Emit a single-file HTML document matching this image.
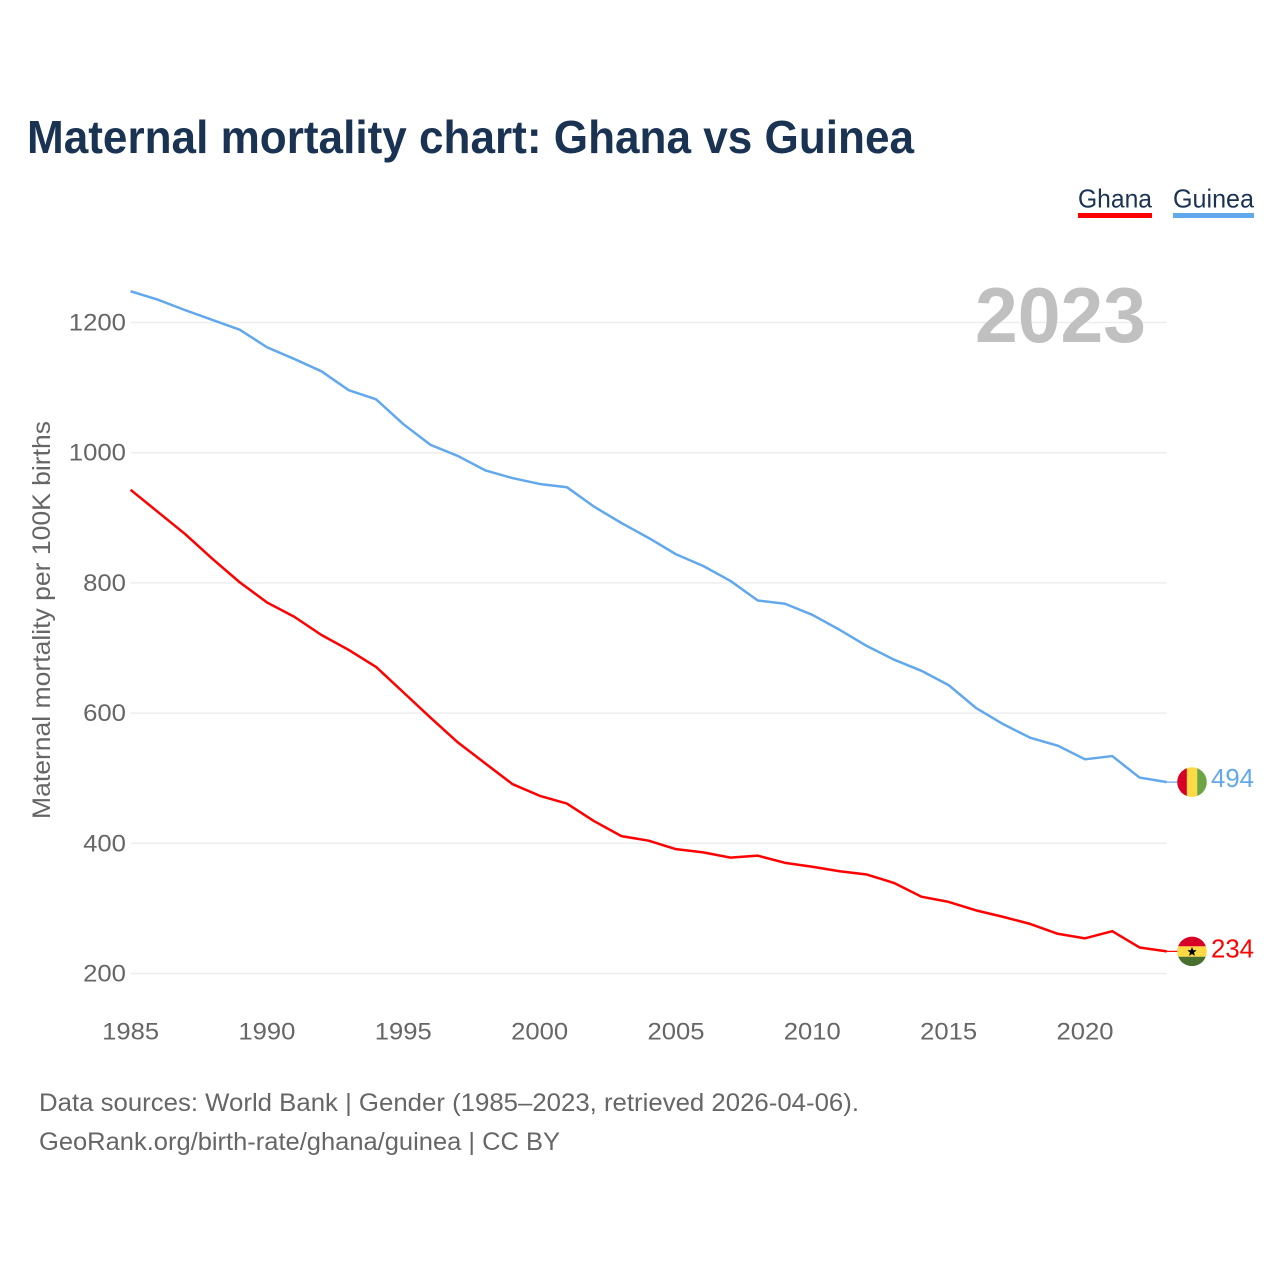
<!DOCTYPE html>
<html lang="en">
<head>
<meta charset="utf-8">
<title>Maternal mortality chart: Ghana vs Guinea</title>
<style>
html,body{margin:0;padding:0;background:#fff;}
svg{display:block;font-family:"Liberation Sans",Arial,sans-serif;}
</style>
</head>
<body>
<svg id="chart" xmlns="http://www.w3.org/2000/svg" width="1280" height="1280" viewBox="0 0 1280 1280">
  <defs>
    <clipPath id="flag-clip-guinea"><circle id="clip-guinea" cx="1192" cy="782" r="14.8"/></clipPath>
    <clipPath id="flag-clip-ghana"><circle id="clip-ghana" cx="1192" cy="951" r="14.8"/></clipPath>
  </defs>
  <rect width="1280" height="1280" fill="#fff"/>
  <text x="27" y="153" font-size="46" font-weight="700" fill="#1a3353" textLength="887" lengthAdjust="spacingAndGlyphs">Maternal mortality chart: Ghana vs Guinea</text>

  <g>
    <text x="1078" y="207.5" font-size="26" fill="#1a3353" textLength="74" lengthAdjust="spacingAndGlyphs">Ghana</text>
    <rect x="1078" y="213" width="74" height="5" fill="#ff0000"/>
  </g>
  <g>
    <text x="1173" y="207.5" font-size="26" fill="#1a3353" textLength="81" lengthAdjust="spacingAndGlyphs">Guinea</text>
    <rect x="1173" y="213" width="81" height="5" fill="#62a8ec"/>
  </g>

  <g id="grid"></g>
  <g id="y-ticks"></g>
  <g id="x-ticks"></g>

  <text x="975" y="342" font-size="78" font-weight="700" fill="#c0c0c0" textLength="171" lengthAdjust="spacingAndGlyphs">2023</text>

  <text transform="translate(50,819) rotate(-90)" x="0" y="0" font-size="25" fill="#666666" textLength="398" lengthAdjust="spacingAndGlyphs">Maternal mortality per 100K births</text>

  <g id="series"></g>

  <g id="flag-guinea" clip-path="url(#flag-clip-guinea)"></g>
  <g id="flag-ghana" clip-path="url(#flag-clip-ghana)"></g>

  <text x="39" y="1111" font-size="25" fill="#666666" textLength="820" lengthAdjust="spacingAndGlyphs">Data sources: World Bank | Gender (1985–2023, retrieved 2026-04-06).</text>
  <text x="39" y="1150" font-size="25" fill="#666666" textLength="521" lengthAdjust="spacingAndGlyphs">GeoRank.org/birth-rate/ghana/guinea | CC BY</text>
</svg>
<script>
const years = [1985,1986,1987,1988,1989,1990,1991,1992,1993,1994,1995,1996,1997,1998,1999,2000,2001,2002,2003,2004,2005,2006,2007,2008,2009,2010,2011,2012,2013,2014,2015,2016,2017,2018,2019,2020,2021,2022,2023];
const guineaValues = [1248,1235,1219,1204,1189,1162,1144,1125,1096,1082,1044,1012,995,973,961,952,947,917,892,869,844,826,803,773,768,751,728,703,682,665,643,608,583,562,550,529,534,501,494];
const ghanaValues = [943,909,875,837,801,770,748,720,697,671,632,593,555,523,491,473,461,434,411,404,391,386,378,381,370,364,357,352,339,318,310,297,287,276,261,254,265,240,234];
const yTickValues = [200,400,600,800,1000,1200];
const xTickValues = [1985,1990,1995,2000,2005,2010,2015,2020];

const NS = 'http://www.w3.org/2000/svg';
function xScale(year){ return 130.6 + (year - 1985) * (1166.8 - 130.6) / (2023 - 1985); }
function yScale(value){ return 973.5 - (value - 200) * 0.651; }
function make(tag, attrs, parent){
  const el = document.createElementNS(NS, tag);
  for (const k in attrs) el.setAttribute(k, attrs[k]);
  parent.appendChild(el);
  return el;
}

const grid = document.getElementById('grid');
const yTicks = document.getElementById('y-ticks');
const xTicks = document.getElementById('x-ticks');
const seriesGroup = document.getElementById('series');

yTickValues.forEach(function(v){
  const line = make('line', {x1:130.6, x2:1166.8, y1:yScale(v), y2:yScale(v), stroke:'#eeeeee', 'stroke-width':1.5}, grid);
  
  
  const label = make('text', {x:126, y:yScale(v)+8, 'text-anchor':'end', 'font-size':24.5, fill:'#666666', textLength:String(v).length*14.3, lengthAdjust:'spacingAndGlyphs'}, yTicks);
  label.textContent = v;
  
  
});

xTickValues.forEach(function(v){
  const label = make('text', {x:xScale(v), y:1039.5, 'text-anchor':'middle', 'font-size':24.5, fill:'#666666', textLength:57, lengthAdjust:'spacingAndGlyphs'}, xTicks);
  label.textContent = v;
  
  
});

function pathFor(values){
  return values.map(function(v,i){
    return (i ? 'L' : 'M') + xScale(years[i]).toFixed(2) + ' ' + yScale(v).toFixed(2);
  }).join(' ');
}

const guineaLine = make('path', {d:pathFor(guineaValues), fill:'none', stroke:'#62a8ec', 'stroke-width':2.5, 'stroke-linejoin':'round'}, seriesGroup);


const ghanaLine = make('path', {d:pathFor(ghanaValues), fill:'none', stroke:'#ff0000', 'stroke-width':2.5, 'stroke-linejoin':'round'}, seriesGroup);



const guineaEnd = guineaValues[guineaValues.length-1];
const ghanaEnd = ghanaValues[ghanaValues.length-1];
const guineaY = yScale(guineaEnd);
const ghanaY = yScale(ghanaEnd);

const guineaConnector = make('line', {x1:1166.8, x2:1178, y1:guineaY, y2:guineaY, stroke:'#62a8ec', 'stroke-width':1.2}, seriesGroup);


const ghanaConnector = make('line', {x1:1166.8, x2:1178, y1:ghanaY, y2:ghanaY, stroke:'#ff0000', 'stroke-width':1.2}, seriesGroup);



document.getElementById('clip-guinea').setAttribute('cy', guineaY);
document.getElementById('clip-ghana').setAttribute('cy', ghanaY);

const fg = document.getElementById('flag-guinea');
make('rect', {x:1177, y:guineaY-15, width:10, height:30, fill:'#d80027'}, fg);
make('rect', {x:1186.8, y:guineaY-15, width:10.4, height:30, fill:'#ffda44'}, fg);
make('rect', {x:1197.2, y:guineaY-15, width:10, height:30, fill:'#6da544'}, fg);

const fh = document.getElementById('flag-ghana');
make('rect', {x:1177, y:ghanaY-15, width:30, height:10, fill:'#d80027'}, fh);
make('rect', {x:1177, y:ghanaY-5, width:30, height:10.4, fill:'#ffda44'}, fh);
make('rect', {x:1177, y:ghanaY+5.4, width:30, height:10, fill:'#496e2d'}, fh);
const starPts = [];
for (let i = 0; i < 10; i++) {
  const r = i % 2 ? 2.1 : 5;
  const a = -Math.PI/2 + i * Math.PI/5;
  starPts.push((1192 + r*Math.cos(a)).toFixed(2) + ',' + (ghanaY + 0.5 + r*Math.sin(a)).toFixed(2));
}
make('polygon', {points:starPts.join(' '), fill:'#000'}, fh);

const guineaLabel = make('text', {x:1211, y:guineaY+5, 'font-size':25.5, fill:'#62a8ec', textLength:43, lengthAdjust:'spacingAndGlyphs'}, seriesGroup);
guineaLabel.textContent = guineaEnd;


const ghanaLabel = make('text', {x:1211, y:ghanaY+6, 'font-size':25.5, fill:'#ff0000', textLength:43, lengthAdjust:'spacingAndGlyphs'}, seriesGroup);
ghanaLabel.textContent = ghanaEnd;


</script>
</body>
</html>
